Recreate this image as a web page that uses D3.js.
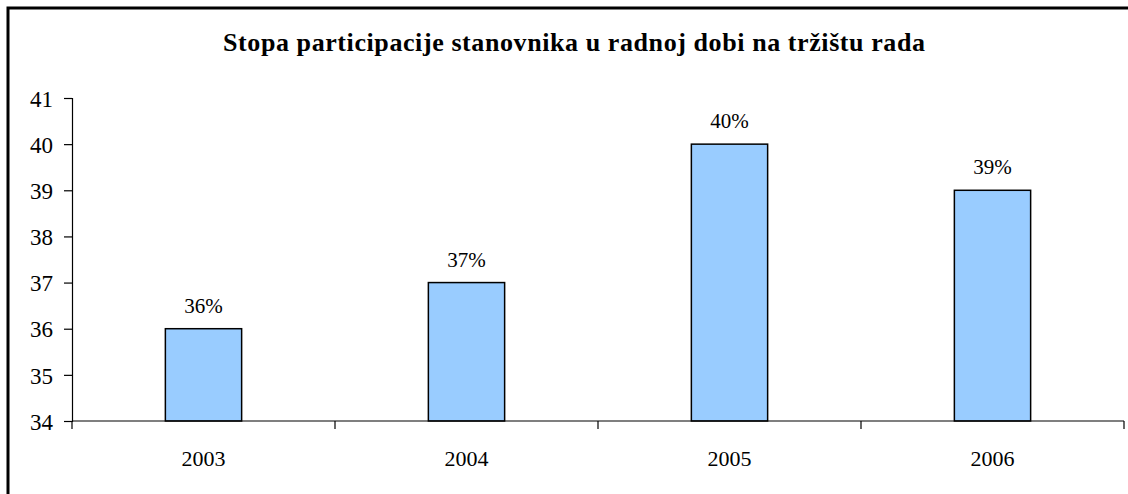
<!DOCTYPE html>
<html>
<head>
<meta charset="utf-8">
<script src="https://cdn.jsdelivr.net/npm/d3@7"></script>
<style>
	body { margin: 0; background: #fff; }
	svg text { font-family: "Liberation Serif", "Times New Roman", serif; fill: #000; }
</style>
</head>
<body>
<div id="chart"></div>
<script>
// chart data
var years = ["2003", "2004", "2005", "2006"];
var rates = [36, 37, 40, 39];
var yTicks = [34, 35, 36, 37, 38, 39, 40, 41];
var title = "Stopa participacije stanovnika u radnoj dobi na tržištu rada";

var width = 1128, height = 494;
var margin = { top: 98, right: 4, bottom: 73, left: 72 };
var serif = "Liberation Serif, Times New Roman, serif";

var svg = d3.select("#chart").append("svg")
	.attr("width", width)
	.attr("height", height)
	.attr("font-family", serif);

// outer frame (runs off the right and bottom edge)
svg.append("path")
	.attr("d", "M8," + height + "V8H" + (width + 10))
	.attr("fill", "none")
	.attr("stroke", "#000")
	.attr("stroke-width", 3);

svg.append("text")
	.attr("x", 223)
	.attr("y", 51)
	.attr("font-family", serif)
	.attr("font-size", "26px")
	.attr("font-weight", "bold")
	.attr("textLength", 702)
	.attr("lengthAdjust", "spacing")
	.text(title);

var x = d3.scaleBand()
	.domain(years)
	.range([margin.left, width - margin.right])
	.paddingInner(0.71)
	.paddingOuter(0.355);

var xTickScale = d3.scaleLinear()
	.domain([0, years.length])
	.range([margin.left, width - margin.right]);

var y = d3.scaleLinear()
	.domain([34, 41])
	.range([height - margin.bottom, margin.top]);

// y axis
var yAxis = svg.append("g")
	.attr("transform", "translate(" + margin.left + ",0)")
	.call(d3.axisLeft(y).tickValues(yTicks).tickSize(8).tickPadding(11).tickFormat(d3.format("d")));
yAxis.attr("font-family", serif);
yAxis.selectAll("text")
	.attr("font-size", "23px")
	.attr("font-family", serif)
	.attr("dy", "0.36em");

// bars
svg.selectAll("rect.bar").data(rates)
	.enter().append("rect")
	.attr("class", "bar")
	.attr("x", function (d, i) { return x(years[i]); })
	.attr("y", function (d) { return y(d); })
	.attr("width", x.bandwidth())
	.attr("height", function (d) { return y(34) - y(d); })
	.attr("fill", "#99CCFF")
	.attr("stroke", "#000")
	.attr("stroke-width", 1.5);

// value labels
svg.selectAll("text.val").data(rates)
	.enter().append("text")
	.attr("class", "val")
	.attr("text-anchor", "middle")
	.attr("font-family", serif)
	.attr("font-size", "21px")
	.attr("x", function (d, i) { return x(years[i]) + x.bandwidth() / 2; })
	.attr("y", function (d) { return y(d) - 16; })
	.text(function (d) { return d + "%"; });

// x axis: line, ticks between categories, labels
var baseY = y(34);
svg.append("line")
	.attr("x1", margin.left).attr("x2", width - margin.right)
	.attr("y1", baseY).attr("y2", baseY)
	.attr("stroke", "#000").attr("stroke-width", 1.2);

svg.selectAll("line.xtick").data(d3.range(years.length + 1))
	.enter().append("line")
	.attr("class", "xtick")
	.attr("x1", function (d) { return xTickScale(d); })
	.attr("x2", function (d) { return xTickScale(d); })
	.attr("y1", baseY).attr("y2", baseY + 8)
	.attr("stroke", "#000").attr("stroke-width", 1.2);

svg.selectAll("text.year").data(years)
	.enter().append("text")
	.attr("class", "year")
	.attr("text-anchor", "middle")
	.attr("font-family", serif)
	.attr("font-size", "22px")
	.attr("x", function (d) { return x(d) + x.bandwidth() / 2; })
	.attr("y", baseY + 45)
	.text(function (d) { return d; });

yAxis.select(".domain").attr("stroke-width", 1.2);
yAxis.selectAll(".tick line").attr("stroke-width", 1.2);
</script>
</body>
</html>
